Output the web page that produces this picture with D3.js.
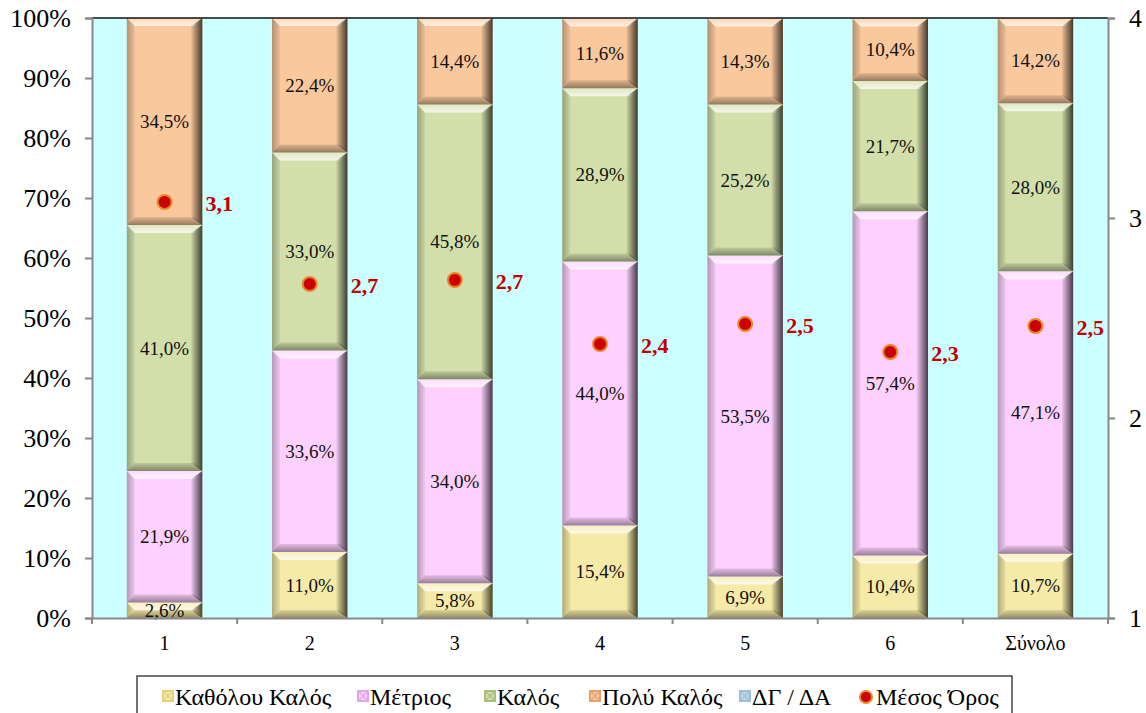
<!DOCTYPE html>
<html><head><meta charset="utf-8">
<script src="https://cdn.jsdelivr.net/npm/d3@7"></script>
<style>body{margin:0;background:#fff}svg{display:block}text{font-family:"Liberation Serif","Times New Roman",serif}</style>
</head><body><svg id="c" width="1146" height="713"></svg>
<script>
const categories = ["1","2","3","4","5","6","Σύνολο"];
const seriesNames = ["Καθόλου Καλός","Μέτριος","Καλός","Πολύ Καλός","ΔΓ / ΔΑ"];
const katholou = [2.6, 11.0, 5.8, 15.4, 6.9, 10.4, 10.7];
const metrios  = [21.9, 33.6, 34.0, 44.0, 53.5, 57.4, 47.1];
const kalos    = [41.0, 33.0, 45.8, 28.9, 25.2, 21.7, 28.0];
const poluKalos= [34.5, 22.4, 14.4, 11.6, 14.3, 10.4, 14.2];
const dgda     = [0, 0, 0, 0, 0, 0, 0];
const mesosOros= [3.08, 2.67, 2.69, 2.37, 2.47, 2.33, 2.46];
const leftTicks = [0,10,20,30,40,50,60,70,80,90,100];
const rightTicks = [1,2,3,4];
const colors = ["#F6EAA8","#FDD0FD","#D3DFAA","#F9C89C","#B8D8E8"];
const legendColors = ["#E6D27A","#E2A6E2","#A9C07A","#E8A070","#9CC0D4"];

const svg = d3.select("#c");
const L=92, R=1108, T=18, B=618;
const x = d3.scaleBand().domain(categories).range([L,R]).padding(0);
const y = d3.scaleLinear().domain([0,100]).range([B,T]);
const y2 = d3.scaleLinear().domain([1,4]).range([B,T]);
const fmt = v => d3.format(".1f")(v).replace(".", ",");

const defs = svg.append("defs");
const gR = defs.append("linearGradient").attr("id","gR").attr("x1","0").attr("x2","1").attr("y1","0").attr("y2","0");
gR.append("stop").attr("offset","0").attr("stop-color","#000").attr("stop-opacity",0.05);
gR.append("stop").attr("offset","1").attr("stop-color","#000").attr("stop-opacity",0.72);
const gL = defs.append("linearGradient").attr("id","gL").attr("x1","0").attr("x2","1").attr("y1","0").attr("y2","0");
gL.append("stop").attr("offset","0").attr("stop-color","#000").attr("stop-opacity",0.28);
gL.append("stop").attr("offset","1").attr("stop-color","#000").attr("stop-opacity",0.05);
const gT = defs.append("linearGradient").attr("id","gT").attr("x1","0").attr("x2","0").attr("y1","0").attr("y2","1");
gT.append("stop").attr("offset","0").attr("stop-color","#fff").attr("stop-opacity",0.25);
gT.append("stop").attr("offset","1").attr("stop-color","#fff").attr("stop-opacity",0.75);
const gB = defs.append("linearGradient").attr("id","gB").attr("x1","0").attr("x2","0").attr("y1","0").attr("y2","1");
gB.append("stop").attr("offset","0").attr("stop-color","#000").attr("stop-opacity",0.1);
gB.append("stop").attr("offset","1").attr("stop-color","#000").attr("stop-opacity",0.4);

svg.append("rect").attr("x",L).attr("y",T).attr("width",R-L).attr("height",B-T).attr("fill","#CCFFFF");

function bevel(g, bx, by, w, h, color, bs){
  const b = Math.min(bs, h/2, w/2);
  g.append("rect").attr("x",bx).attr("y",by).attr("width",w).attr("height",h).attr("fill",color);
  if (h <= 0) return;
  const poly = (pts, fill) => g.append("polygon").attr("points", pts.map(p=>p.join(",")).join(" ")).attr("fill", fill);
  poly([[bx,by],[bx+w,by],[bx+w-b,by+b],[bx+b,by+b]], "url(#gT)");
  poly([[bx,by+h],[bx+w,by+h],[bx+w-b,by+h-b],[bx+b,by+h-b]], "url(#gB)");
  poly([[bx,by],[bx+b,by+b],[bx+b,by+h-b],[bx,by+h]], "url(#gL)");
  poly([[bx+w,by],[bx+w-b*1.4,by+b],[bx+w-b*1.4,by+h-b],[bx+w,by+h]], "url(#gR)");
}

const series = [katholou, metrios, kalos, poluKalos, dgda];
const barW = x.bandwidth()*0.52;
const barsG = svg.append("g");
categories.forEach((c,i)=>{
  let cum = 0;
  series.forEach((s,k)=>{
    const v = s[i];
    const y0 = y(cum), y1 = y(cum+v);
    const bx = x(c) + (x.bandwidth()-barW)/2;
    if (v>0) bevel(barsG, bx, y1, barW, y0-y1, colors[k], 8);
    cum += v;
  });
});
categories.forEach((c,i)=>{
  let cum = 0;
  series.forEach((s,k)=>{
    const v = s[i];
    if (v>0){
      svg.append("text").attr("x", x(c)+x.bandwidth()/2).attr("y", y(cum+v/2))
        .attr("text-anchor","middle").attr("dominant-baseline","central")
        .attr("font-size",19).attr("fill","#111").text(fmt(v)+"%");
    }
    cum += v;
  });
});

svg.append("line").attr("x1",L).attr("x2",R).attr("y1",T).attr("y2",T).attr("stroke","#111").attr("stroke-width",1.5);

const axisColor = "#888";
const la = svg.append("g").attr("transform",`translate(${L},0)`)
  .call(d3.axisLeft(y).tickValues(leftTicks).tickFormat(d=>d+"%").tickSize(7).tickPadding(14));
const ra = svg.append("g").attr("transform",`translate(${R},0)`)
  .call(d3.axisRight(y2).tickValues(rightTicks).tickFormat(d3.format("d")).tickSize(7).tickPadding(14));
const xa = svg.append("g").attr("transform",`translate(0,${B})`)
  .call(d3.axisBottom(x).tickSize(0).tickPadding(18));
[la,ra,xa].forEach(a=>{
  a.attr("font-family",null);
  a.select(".domain").attr("stroke",axisColor).attr("stroke-width",2);
  a.selectAll(".tick line").attr("stroke",axisColor).attr("stroke-width",2);
  a.selectAll("text").attr("fill","#000");
});
la.selectAll("text").attr("font-size",26);
ra.selectAll("text").attr("font-size",26);
xa.selectAll("text").attr("font-size",20);
const bounds = categories.map(c=>x(c)).concat([R]);
svg.append("g").selectAll("line").data(bounds).join("line")
  .attr("x1",d=>d).attr("x2",d=>d).attr("y1",B).attr("y2",B+6).attr("stroke",axisColor).attr("stroke-width",2);

const mg = svg.append("g");
categories.forEach((c,i)=>{
  const cx = x(c)+x.bandwidth()/2, cy = y2(mesosOros[i]);
  mg.append("circle").attr("cx",cx).attr("cy",cy).attr("r",7).attr("fill","#CC0000").attr("stroke","#E8862A").attr("stroke-width",2);
  mg.append("text").attr("x",cx+41).attr("y",cy+1).attr("dominant-baseline","central")
    .attr("font-size",22).attr("font-weight","bold").attr("fill","#C00000").text(fmt(mesosOros[i]));
});

const lg = svg.append("g");
lg.append("rect").attr("x",137).attr("y",676).attr("width",875).attr("height",50).attr("fill","#fff").attr("stroke","#444").attr("stroke-width",1.5);
const legX = [163, 358, 485, 590, 740];
seriesNames.forEach((n,k)=>{
  lg.append("rect").attr("x",legX[k]).attr("y",691).attr("width",10).attr("height",10)
    .attr("fill",colors[k]).attr("stroke",legendColors[k]).attr("stroke-width",2);
  lg.append("path").attr("d",`M${legX[k]+1},${692}L${legX[k]+5},${696}L${legX[k]+9},${692}M${legX[k]+1},${700}L${legX[k]+5},${696}L${legX[k]+9},${700}`)
    .attr("stroke",legendColors[k]).attr("stroke-width",1.2).attr("fill","none");
  lg.append("text").attr("x",legX[k]+12).attr("y",705).attr("font-size",24).attr("fill","#000").text(n);
});
lg.append("circle").attr("cx",866).attr("cy",697).attr("r",6).attr("fill","#CC0000").attr("stroke","#E8862A").attr("stroke-width",2);
lg.append("text").attr("x",876).attr("y",705).attr("font-size",24).attr("fill","#000").text("Μέσος Όρος");
</script></body></html>
